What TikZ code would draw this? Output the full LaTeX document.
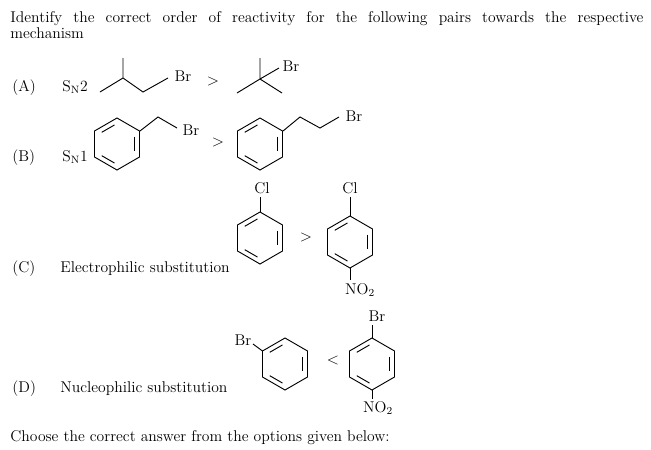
\documentclass[tikz,border=0pt]{standalone}
\usetikzlibrary{calc}
\begin{document}
\begin{tikzpicture}[x=0.75pt,y=-0.75pt,line width=0.7pt,
  txt/.style={inner sep=0pt,anchor=base west,font=\fontsize{11.7}{13}\selectfont},
  lbl/.style={inner sep=0pt,font=\fontsize{11.7}{13}\selectfont}]
\useasboundingbox (0,0) rectangle (651,450);
\newcommand\benz[2]{%
 \begin{scope}[shift={(#1,#2)}]
 \draw (-90:26)--(-30:26)--(30:26)--(90:26)--(150:26)--(210:26)--cycle;
 \foreach \a/\b in {210/270,90/150,-30/30}{
   \draw ($(\a:20.5)!0.14!(\b:20.5)$)--($(\a:20.5)!0.86!(\b:20.5)$);}
 \end{scope}}
\node[txt] (t1) at (10,22) {\makebox[474.75pt][s]{Identify the correct order of reactivity for the following pairs towards the respective}};
\node[txt] (t2) at (10,38) {mechanism};
% A
\node[txt] (A) at (12,91) {(A)};
\node[txt] (sn2) at (62,91) {S$_\mathrm{N}$2};
\draw (100,92)--(123,78)--(143,92)--(168,78) (123,78)--(123,58);
\node[lbl] (br1) at (183,76) {Br};
\node[lbl] (gt1) at (213,81) {$>$};
\draw (237,93)--(260,79)--(282,93) (260,79)--(260,58) (260,79)--(279,68);
\node[lbl] (br2) at (291,66) {Br};
% B
\node[txt] (B) at (12,161) {(B)};
\node[txt] (sn1) at (62,161) {S$_\mathrm{N}$1};
\benz{117}{144}
\draw (140,131)--(158,117)--(177,128);
\node[lbl] (br3) at (191,130) {Br};
\node[lbl] (gt2) at (218,142) {$>$};
\benz{260}{144}
\draw (283,131)--(300,117)--(320,128)--(339,117);
\node[lbl] (br4) at (354,116) {Br};
% C
\node[txt] (C) at (12,272) {(C)};
\node[txt] (es) at (60,272) {Electrophilic substitution};
\node[lbl] (cl1) at (262,188) {Cl};
\draw (260,197)--(260,212);
\benz{260}{238}
\node[lbl] (gt3) at (306,237) {$>$};
\node[lbl] (cl2) at (350,188) {Cl};
\draw (350,197)--(350,216);
\benz{350}{242}
\draw (350,268)--(350,280);
\node[lbl] (no1) at (360,290) {NO$_2$};
% D
\node[txt] (D) at (12,392) {(D)};
\node[txt] (ns) at (60,392) {Nucleophilic substitution};
\node[lbl] (br5) at (243,340) {Br};
\benz{285}{364}
\draw (253,344)--(262.5,351);
\node[lbl] (lt) at (333,360) {$<$};
\node[lbl] (br6) at (377,316) {Br};
\draw (372,325)--(372,338);
\benz{372}{364}
\draw (372,390)--(372,399);
\node[lbl] (no2) at (378,408) {NO$_2$};
\node[txt] (t3) at (10,441) {Choose the correct answer from the options given below:};
\end{tikzpicture}
\end{document}
